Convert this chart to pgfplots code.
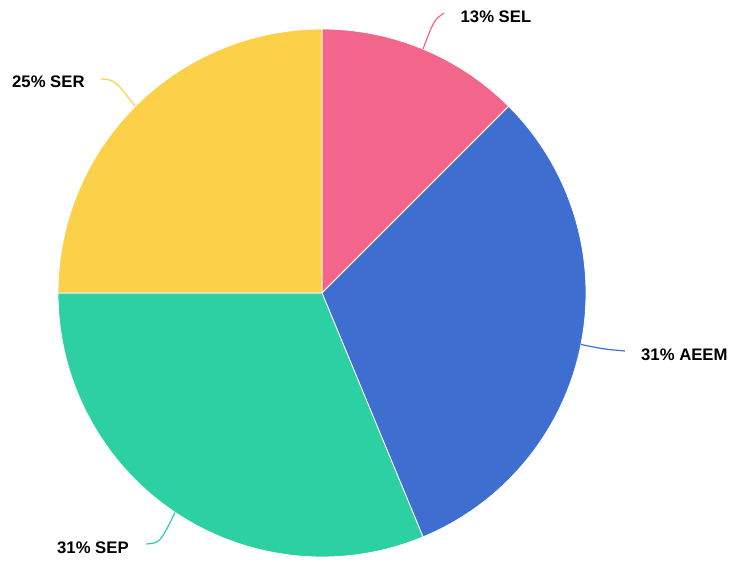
\documentclass[border=0pt]{standalone}
\usepackage{pgfplots}
\pgfplotsset{compat=1.18}
\usepackage{pgfplotstable}
\usepackage{fontspec}
\setmainfont{Liberation Sans}
\definecolor{cSEL}{HTML}{F1668A}
\definecolor{cAEEM}{HTML}{3E6ECF}
\definecolor{cSEP}{HTML}{2CD0A2}
\definecolor{cSER}{HTML}{FCD149}
% values (percent)
\pgfplotstableread{
name value
SEL 12.5
AEEM 31.25
SEP 31.25
SER 25
}\piedata
\pgfplotstablegetelem{0}{value}\of\piedata \let\vA\pgfplotsretval
\pgfplotstablegetelem{1}{value}\of\piedata \let\vB\pgfplotsretval
\pgfplotstablegetelem{2}{value}\of\piedata \let\vC\pgfplotsretval
\pgfplotstablegetelem{3}{value}\of\piedata \let\vD\pgfplotsretval
\pgfmathsetmacro\aA{90}
\pgfmathsetmacro\aB{\aA-3.6*\vA}
\pgfmathsetmacro\aC{\aB-3.6*\vB}
\pgfmathsetmacro\aD{\aC-3.6*\vC}
\pgfmathsetmacro\aE{\aD-3.6*\vD}
\begin{document}
\begin{tikzpicture}
\begin{axis}[
  hide axis, scale only axis,
  width=732bp, height=561bp,
  xmin=0, xmax=732, ymin=0, ymax=561,
  clip=false,
]
\path (axis cs:0,0) rectangle (axis cs:732,561);
% slices (centre 322,268 ; radius 264)
\fill[cSEL, draw=white, line width=0.8bp] (axis cs:322,268) -- ++(\aA:264bp) arc[start angle=\aA, end angle=\aB, radius=264bp] -- cycle;
\fill[cAEEM, draw=white, line width=0.8bp] (axis cs:322,268) -- ++(\aB:264bp) arc[start angle=\aB, end angle=\aC, radius=264bp] -- cycle;
\fill[cSEP, draw=white, line width=0.8bp] (axis cs:322,268) -- ++(\aC:264bp) arc[start angle=\aC, end angle=\aD, radius=264bp] -- cycle;
\fill[cSER, draw=white, line width=0.8bp] (axis cs:322,268) -- ++(\aD:264bp) arc[start angle=\aD, end angle=\aE, radius=264bp] -- cycle;
% leader lines
\draw[cSEL, line width=1.2bp] (axis cs:423,512) .. controls (axis cs:434,541) .. (axis cs:444,548);
\draw[cAEEM, line width=1.2bp] (axis cs:581,216.5) .. controls (axis cs:603,212) .. (axis cs:625,210);
\draw[cSEP, line width=1.2bp] (axis cs:175,48.5) .. controls (axis cs:160,18) .. (axis cs:146,17);
\draw[cSER, line width=1.2bp] (axis cs:135,455) .. controls (axis cs:115,481) .. (axis cs:101,482);
% labels
\node[anchor=west, inner sep=0pt, font=\fontsize{16.7bp}{19bp}\selectfont\bfseries] at (axis cs:460.5,544) {13\% SEL};
\node[anchor=west, inner sep=0pt, font=\fontsize{16.7bp}{19bp}\selectfont\bfseries] at (axis cs:641,206) {31\% AEEM};
\node[anchor=west, inner sep=0pt, font=\fontsize{16.7bp}{19bp}\selectfont\bfseries] at (axis cs:57,13) {31\% SEP};
\node[anchor=west, inner sep=0pt, font=\fontsize{16.7bp}{19bp}\selectfont\bfseries] at (axis cs:12,479) {25\% SER};
\end{axis}
\end{tikzpicture}
\end{document}
